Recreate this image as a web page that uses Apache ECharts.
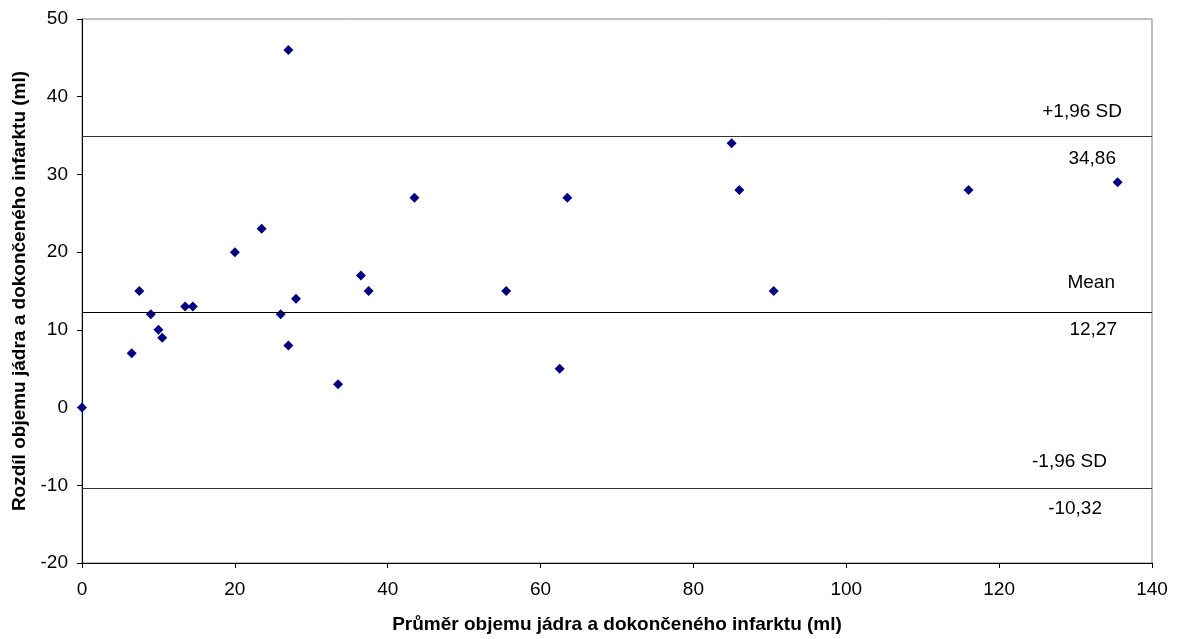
<!DOCTYPE html>
<html>
<head>
<meta charset="utf-8">
<script src="https://cdn.jsdelivr.net/npm/echarts@6/dist/echarts.min.js"></script>
<style>
  html, body { margin: 0; padding: 0; background: #fff; }
  #chart { width: 1179px; height: 639px; }
</style>
</head>
<body>
<div id="chart"></div>
<script>
// mean of core + final infarct volume (x) vs. their difference (y)
const xValues = [0, 6.5, 7.5, 9, 10, 10.5, 13.5, 14.5, 20, 23.5, 26, 27, 27, 28, 33.5, 36.5, 37.5, 43.5, 55.5, 62.5, 63.5, 85, 86, 90.5, 116, 135.5]
const yValues = [0, 7, 15, 12, 10, 9, 13, 13, 20, 23, 12, 46, 8, 14, 3, 17, 15, 27, 15, 5, 27, 34, 28, 15, 28, 29]

const limitValues = [34.86, 12.27, -10.32]
const limitNames = ['+1,96 SD', 'Mean', '-1,96 SD']
const limitTexts = ['34,86', '12,27', '-10,32']

const xTitle = 'Průměr objemu jádra a dokončeného infarktu (ml)'
const yTitle = 'Rozdíl objemu jádra a dokončeného infarktu (ml)'

const FONT = '"Liberation Sans", Arial, sans-serif'

// label offsets [fromRightEnd, fromLine] for name above / value below
const topDist = [[30, 15], [37, 20], [45, 17]]
const bottomDist = [[36, 13], [35, 8], [50, 11]]
const lineColors = ['#333', '#000', '#333']

const points = xValues.map((x, i) => [x, yValues[i]])

const markData = []
limitValues.forEach((v, i) => {
    markData.push({
        yAxis: v,
        lineStyle: { color: lineColors[i], width: 1, type: 'solid' },
        label: { position: 'insideEndTop', formatter: limitNames[i], distance: topDist[i] }
    })
    markData.push({
        yAxis: v,
        lineStyle: { color: lineColors[i], width: 1, type: 'solid' },
        label: { position: 'insideEndBottom', formatter: limitTexts[i], distance: bottomDist[i] }
    })
})

const options = {
    animation: false,
    textStyle: { fontFamily: FONT },
    grid: {
        left: 82,
        right: 27,
        top: 19,
        bottom: 74,
        show: true,
        borderColor: '#808080',
        borderWidth: 1
    },
    xAxis: {
        type: 'value',
        min: 0,
        max: 140,
        interval: 20,
        name: xTitle,
        nameLocation: 'middle',
        nameGap: 52,
        nameTextStyle: { fontFamily: FONT, fontSize: 19, fontWeight: 'bold', color: '#000' },
        axisLine: { show: true, onZero: false, lineStyle: { color: '#000', width: 1 } },
        axisTick: { show: true, inside: false, length: 5, lineStyle: { color: '#000' } },
        axisLabel: { fontFamily: FONT, fontSize: 19, color: '#000', margin: 17 },
        splitLine: { show: false }
    },
    yAxis: {
        type: 'value',
        min: -20,
        max: 50,
        interval: 10,
        name: yTitle,
        nameLocation: 'middle',
        nameGap: 51,
        nameTextStyle: { fontFamily: FONT, fontSize: 19, fontWeight: 'bold', color: '#000' },
        axisLine: { show: true, onZero: false, lineStyle: { color: '#000', width: 1 } },
        axisTick: { show: true, inside: false, length: 5, lineStyle: { color: '#000' } },
        axisLabel: { fontFamily: FONT, fontSize: 19, color: '#000', margin: 14 },
        splitLine: { show: false }
    },
    series: [
        {
            type: 'scatter',
            data: points,
            symbol: 'diamond',
            symbolSize: 10,
            clip: false,
            itemStyle: { color: '#000080', opacity: 1 },
            markLine: {
                silent: true,
                symbol: ['none', 'none'],
                label: { fontFamily: FONT, fontSize: 19, color: '#000' },
                data: markData
            }
        }
    ]
}

const chart = echarts.init(document.getElementById('chart'))
chart.setOption(options)
</script>
</body>
</html>
